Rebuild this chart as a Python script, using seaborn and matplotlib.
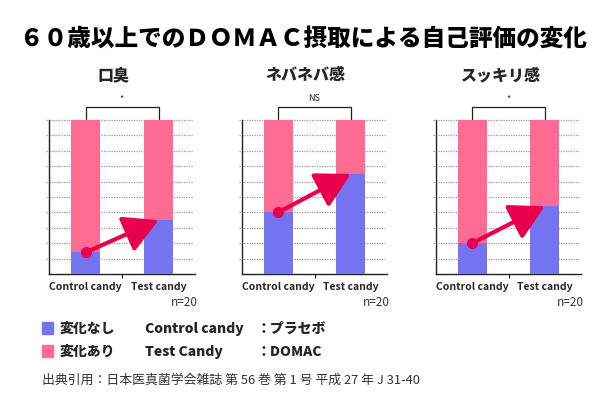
import matplotlib
matplotlib.use("Agg")
import matplotlib.pyplot as plt
import matplotlib.transforms as mtransforms
from matplotlib.patches import Rectangle
import seaborn as sns
import pandas as pd

# ---- data ----
title = "６０歳以上でのＤＯＭＡＣ摂取による自己評価の変化"
panels = ["口臭", "ネバネバ感", "スッキリ感"]
groups = ["Control candy", "Test candy"]
no_change = [[14, 35], [40, 65], [20, 44]]      # 変化なし (%)
changed = [[86, 65], [60, 35], [80, 56]]        # 変化あり (%)
significance = ["*", "NS", "*"]
n_label = "n=20"
legend_labels = ["変化なし", "変化あり"]
legend_desc = [("Control candy", "：プラセボ"), ("Test Candy", "：DOMAC")]
citation = "出典引用：日本医真菌学会雑誌 第 56 巻 第 1 号 平成 27 年 J 31-40"

BLUE = "#7474F2"
PINK = "#FF6B93"
ARROW = "#E8004F"

sns.set_theme(style="white")
plt.rcParams["font.family"] = ["Noto Sans CJK JP", "DejaVu Sans"]

W, H = 612, 406
fig = plt.figure(figsize=(W / 100, H / 100), dpi=100)

ax_lefts = [49, 242, 436]
ax_widths = [146, 145, 145]
ax_bottom_px, ax_top_px = 275, 121

fig.text(303.5 / W, 1 - 38 / H, title, ha="center", va="center",
         fontsize=17.0, fontweight="black", color="black")

for i, name in enumerate(panels):
    left = ax_lefts[i] / W
    width = ax_widths[i] / W
    bottom = 1 - ax_bottom_px / H
    height = (ax_bottom_px - ax_top_px) / H
    ax = fig.add_axes([left, bottom, width, height])

    df = pd.DataFrame({
        "group": groups,
        "no_change": no_change[i],
        "total": [a + b for a, b in zip(no_change[i], changed[i])],
    })

    # dotted grid lines
    trans = mtransforms.blended_transform_factory(ax.transAxes, ax.transData)
    for gy in range(10, 101, 10):
        ax.plot([-3 / ax_widths[i], (ax_widths[i] - 2) / ax_widths[i]], [gy, gy],
                transform=trans, color="#999999", lw=0.9, ls=(0, (1, 1)),
                clip_on=False, zorder=0.5)

    sns.barplot(data=df, x="group", y="total", color=PINK, saturation=1,
                width=0.4, ax=ax, zorder=2, linewidth=0)
    sns.barplot(data=df, x="group", y="no_change", color=BLUE, saturation=1,
                width=0.4, ax=ax, zorder=3, linewidth=0)

    # arrow from control to test
    c, t = no_change[i]
    ax.annotate("", xy=(1, t), xytext=(0, c),
                arrowprops=dict(arrowstyle="-|>,head_length=1.0,head_width=0.55",
                                color=ARROW, lw=3.0, mutation_scale=21,
                                shrinkA=0, shrinkB=0),
                zorder=5)
    ax.plot([0], [c], marker="o", color=ARROW, markersize=7, zorder=6, linestyle="none")

    ax.set_xlim(-0.5, 1.5)
    ax.set_ylim(0, 100)
    ax.set_xlabel("")
    ax.set_ylabel("")
    ax.set_yticks([])
    ax.set_xticks([0, 1])
    ax.set_xticklabels(groups, fontsize=7.5, fontweight="bold")
    ax.tick_params(axis="x", length=0, pad=5)
    ax.set_xticks([0.5], minor=True)
    ax.tick_params(axis="x", which="minor", length=3, width=0.8, color="black", bottom=True)
    for s in ["top", "right"]:
        ax.spines[s].set_visible(False)
    for s in ["left", "bottom"]:
        ax.spines[s].set_color("#222222")
        ax.spines[s].set_linewidth(1.0)
    ax.set_facecolor("none")
    ax.grid(False)

    # panel title
    ax.text(0.44, 1 + (ax_top_px - 75) / 154, name, transform=ax.transAxes,
            ha="center", va="center", fontsize=11.5, fontweight="black")

    # significance bracket
    tb = mtransforms.blended_transform_factory(ax.transData, ax.transAxes)
    y_top = (ax_bottom_px - 108) / 154
    y_end = (ax_bottom_px - 120) / 154
    ax.plot([0, 0, 1, 1], [y_end, y_top, y_top, y_end], color="#222222", lw=0.9,
            transform=tb, clip_on=False)
    ax.text(0.5, y_top + 0.03, significance[i], transform=tb, ha="center",
            va="bottom", fontsize=6.5)

    # n label
    ax.text(1 + 3 / ax_widths[i], -(302 - ax_bottom_px) / 154, n_label,
            transform=ax.transAxes, ha="right", va="center", fontsize=8.5,
            color="#333333")

# legend
for j, (lab, col) in enumerate(zip(legend_labels, [BLUE, PINK])):
    yc = [329, 352][j]
    fig.patches.append(Rectangle((42 / W, 1 - (yc + 6) / H), 11 / W, 12 / H,
                                 transform=fig.transFigure, color=col, figure=fig))
    fig.text(60 / W, 1 - yc / H, lab, ha="left", va="center", fontsize=10,
             fontweight="black")
    fig.text(145 / W, 1 - yc / H, legend_desc[j][0], ha="left", va="center",
             fontsize=10, fontweight="black")
    fig.text(256 / W, 1 - yc / H, legend_desc[j][1], ha="left", va="center",
             fontsize=10, fontweight="black")

fig.text(42 / W, 1 - 380 / H, citation, ha="left", va="center", fontsize=9.3,
         color="#333333")

fig.savefig("out.png", dpi=100, facecolor="white")
